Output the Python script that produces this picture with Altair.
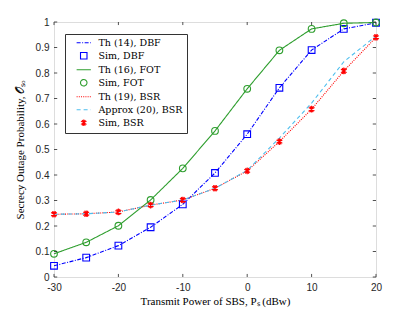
import altair as alt
import pandas as pd

# ---- data ----
x_vals = [-30, -25, -20, -15, -10, -5, 0, 5, 10, 15, 20]
dbf = [0.044, 0.076, 0.123, 0.195, 0.285, 0.408, 0.560, 0.742, 0.890, 0.973, 0.997]
fot = [0.091, 0.136, 0.201, 0.302, 0.426, 0.573, 0.738, 0.889, 0.973, 0.995, 0.998]
bsr = [0.246, 0.248, 0.255, 0.282, 0.302, 0.348, 0.416, 0.531, 0.658, 0.808, 0.940]
bsr_approx = [0.246, 0.248, 0.255, 0.282, 0.302, 0.348, 0.418, 0.545, 0.682, 0.844, 0.945]

series_names = ["Th (14), DBF", "Sim, DBF", "Th (16), FOT", "Sim, FOT",
                "Th (19), BSR", "Approx (20), BSR", "Sim, BSR"]
series_colors = ["#0000ff", "#0000ff", "#2e9e2e", "#2e9e2e",
                 "#ff0000", "#4dbeee", "#ff0000"]
LINE = "M-2.2,0L2.2,0"
STAR = "M0,-1L0,1M-0.87,-0.5L0.87,0.5M-0.87,0.5L0.87,-0.5M-0.5,-0.87L0.5,0.87M0.5,-0.87L-0.5,0.87"
series_shapes = [LINE, "square", LINE, "circle", LINE, LINE, STAR]
series_dash = [[4, 1.5, 1, 1.5], [1, 0], [1, 0], [1, 0], [1, 1.2], [4, 3], [1, 0]]

x_ticks = [-30, -20, -10, 0, 10, 20]
y_ticks = [0, 0.1, 0.2, 0.3, 0.4, 0.5, 0.6, 0.7, 0.8, 0.9, 1]

SERIF = "DejaVu Serif"

line_rows = []
for name, ys in [("Th (14), DBF", dbf), ("Th (16), FOT", fot),
                 ("Th (19), BSR", bsr), ("Approx (20), BSR", bsr_approx)]:
    for xv, yv in zip(x_vals, ys):
        line_rows.append({"x": xv, "y": yv, "series": name})
point_rows = []
for name, ys in [("Sim, DBF", dbf), ("Sim, FOT", fot), ("Sim, BSR", bsr)]:
    for xv, yv in zip(x_vals, ys):
        point_rows.append({"x": xv, "y": yv, "series": name})

lines_df = pd.DataFrame(line_rows)
points_df = pd.DataFrame(point_rows)

xscale = alt.Scale(domain=[-30, 20], nice=False, zero=False)
yscale = alt.Scale(domain=[0, 1], nice=False, zero=False)

legend = alt.Legend(title=None, orient="none", legendX=11, legendY=12,
                    labelFont=SERIF, labelFontSize=9.5,
                    labelColor="#000", symbolSize=42, symbolStrokeWidth=1.1,
                    strokeColor="#333", fillColor="white", padding=4,
                    rowPadding=2, labelOffset=10, symbolOffset=10,
                    labelLimit=200)

color_enc = alt.Color("series:N", scale=alt.Scale(domain=series_names, range=series_colors),
                      legend=legend)

xax = alt.Axis(values=x_ticks, labelExpr="toString(datum.value)", labelFlush=False,
               title="Transmit Power of SBS, Pₛ (dBw)", titlePadding=3,
               titleFontWeight="normal")
yax = alt.Axis(values=y_ticks, labelExpr="toString(datum.value)", labelFlush=False,
               title="Secrecy Outage Probability, 𝒪ₛₒ", titlePadding=10,
               titleFontWeight="normal")

lines = alt.Chart(lines_df).mark_line(strokeWidth=1.1).encode(
    x=alt.X("x:Q", scale=xscale, axis=xax),
    y=alt.Y("y:Q", scale=yscale, axis=yax),
    color=color_enc,
    strokeDash=alt.StrokeDash("series:N",
                              scale=alt.Scale(domain=series_names, range=series_dash),
                              legend=legend),
)

points = alt.Chart(points_df).mark_point(filled=False, strokeWidth=1.1, size=45, opacity=1).encode(
    x=alt.X("x:Q", scale=xscale, axis=None),
    y=alt.Y("y:Q", scale=yscale, axis=None),
    color=color_enc,
    shape=alt.Shape("series:N",
                    scale=alt.Scale(domain=series_names, range=series_shapes),
                    legend=legend),
)

# inward ticks (MATLAB style) on all four sides
xt_df = pd.DataFrame({"x": x_ticks})
yt_df = pd.DataFrame({"y": y_ticks})
tick_color = "#262626"
xb = alt.Chart(xt_df).mark_rule(color=tick_color, strokeWidth=0.8).encode(
    x=alt.X("x:Q", scale=xscale, axis=None), y=alt.YDatum(0, scale=yscale, axis=None),
    y2=alt.Y2Datum(0.012))
xtop = alt.Chart(xt_df).mark_rule(color=tick_color, strokeWidth=0.8).encode(
    x=alt.X("x:Q", scale=xscale, axis=None), y=alt.YDatum(1, scale=yscale, axis=None),
    y2=alt.Y2Datum(0.988))
yl = alt.Chart(yt_df).mark_rule(color=tick_color, strokeWidth=0.8).encode(
    y=alt.Y("y:Q", scale=yscale, axis=None), x=alt.XDatum(-30, scale=xscale, axis=None),
    x2=alt.X2Datum(-29.5))
yr = alt.Chart(yt_df).mark_rule(color=tick_color, strokeWidth=0.8).encode(
    y=alt.Y("y:Q", scale=yscale, axis=None), x=alt.XDatum(20, scale=xscale, axis=None),
    x2=alt.X2Datum(19.5))

chart = alt.layer(lines, points, xb, xtop, yl, yr).resolve_axis(
    x="independent", y="independent"
).properties(
    width=322, height=255,
    autosize=alt.AutoSizeParams(type="none"),
    padding={"left": 46, "top": 14, "right": 31, "bottom": 33},
).configure_view(stroke="#262626", strokeWidth=1).configure(
    background="white",
).configure_axis(
    tickSize=0, domain=False, grid=False,
    labelFont="Liberation Sans", labelFontSize=10, labelColor="#262626", labelPadding=5,
    titleFont="Liberation Serif", titleFontSize=11, titleFontWeight="normal",
    titleColor="#000",
).configure_legend(
    labelFont=SERIF, labelFontSize=9.5, labelColor="#000",
)

chart.save("out.html", embed_options={"renderer": "svg", "actions": False})
